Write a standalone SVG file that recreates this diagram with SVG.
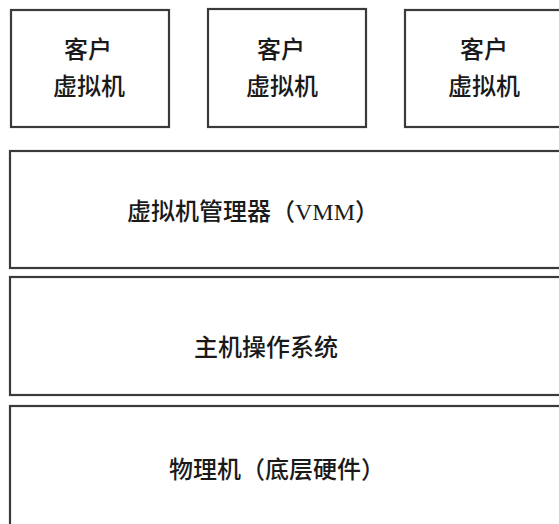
<svg xmlns="http://www.w3.org/2000/svg" width="559" height="524" viewBox="0 0 559 524">
<style>
.box{fill:#fff;stroke:#3a3a3a;stroke-width:2.2}
.t{font-family:"Liberation Serif","Noto Sans CJK SC",serif;font-size:24px;font-weight:500;fill:#1a1a1a;text-anchor:middle}
</style>
<rect width="559" height="524" fill="#fff"/>
<g id="vm1"><rect class="box" x="11" y="10" width="158" height="117"/>
<text class="t" x="88" y="58">客户</text><text class="t" x="89" y="95">虚拟机</text></g>
<g id="vm2"><rect class="box" x="208" y="9" width="158" height="118"/>
<text class="t" x="281" y="58">客户</text><text class="t" x="282" y="95">虚拟机</text></g>
<g id="vm3"><rect class="box" x="405" y="10" width="170" height="117"/>
<text class="t" x="484" y="58">客户</text><text class="t" x="484" y="95">虚拟机</text></g>
<g id="vmm"><rect class="box" x="10" y="151" width="570" height="117"/>
<text class="t" x="253" y="220">虚拟机管理器（VMM）</text></g>
<g id="hostos"><rect class="box" x="10" y="277" width="570" height="118"/>
<text class="t" x="266" y="356">主机操作系统</text></g>
<g id="hw"><rect class="box" x="10" y="406" width="570" height="130"/>
<text class="t" x="277" y="478">物理机（底层硬件）</text></g>
<g id="connectors"></g>
</svg>
